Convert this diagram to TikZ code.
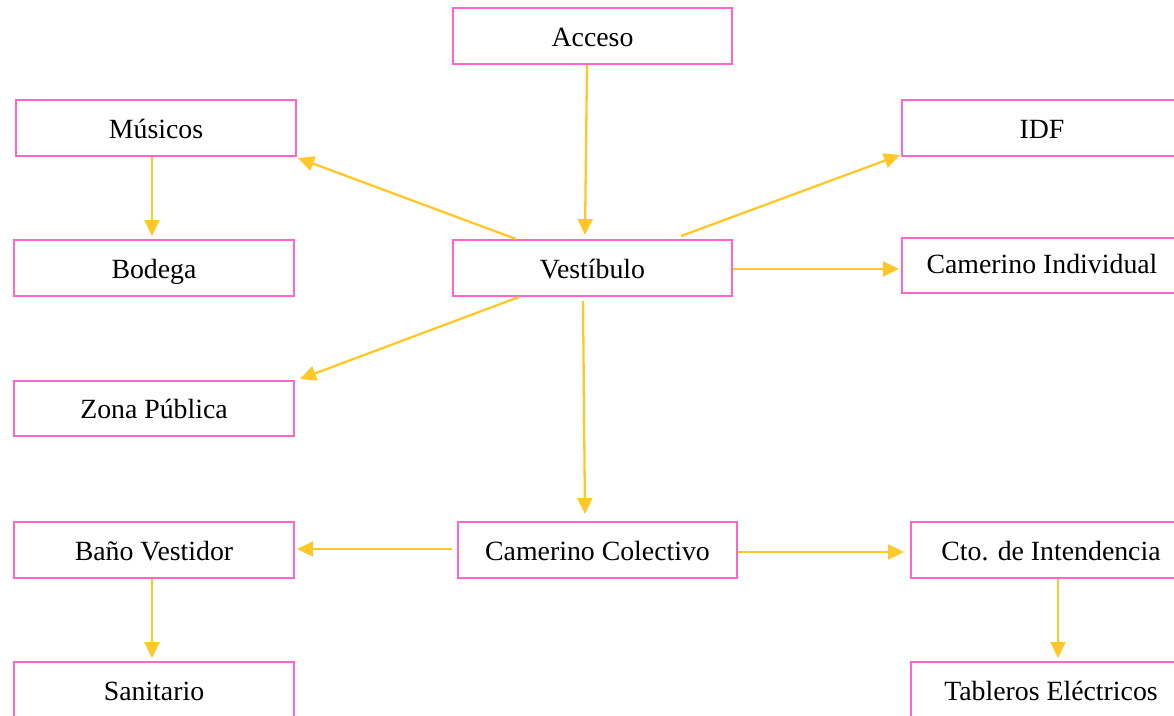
\documentclass[tikz,border=0pt]{standalone}
\usepackage{fontspec}
\setmainfont{Liberation Serif}
\usetikzlibrary{arrows.meta}
\definecolor{boxpink}{RGB}{255,102,204}
\definecolor{arryel}{RGB}{255,200,40}
\begin{document}
\begin{tikzpicture}[x=1pt,y=-1pt,
  box/.style={draw=boxpink,line width=2pt,rectangle,inner sep=0pt,
    minimum width=280pt,minimum height=56pt,text height=21pt,text depth=1pt,
    font=\fontsize{27.8}{33}\selectfont,text=black},
  arr/.style={draw=arryel,line width=2.3pt,-{Triangle[length=16pt,width=15pt]}}]
\useasboundingbox (0,0) rectangle (1174,715);
% nodes
\node[box,minimum width=279pt] (acc) at (592.5,36) {Acceso};
\node[box] (mus) at (156,128) {Músicos};
\node[box] (bod) at (154,268) {Bodega};
\node[box] (idf) at (1042,128) {IDF};
\node[box,minimum width=279pt] (ves) at (592.5,268) {Vestíbulo};
\node[box,minimum height=55pt,text depth=6pt] (ind) at (1042,265.5) {Camerino Individual};
\node[box,minimum height=55pt] (zon) at (154,408.5) {Zona Pública};
\node[box] (ban) at (154,550) {Baño Vestidor};
\node[box,minimum width=279pt] (col) at (597.5,550) {Camerino Colectivo};
\node[box] (cto) at (1051,550) {Cto. de Intendencia};
\node[box] (san) at (154,690) {Sanitario};
\node[box] (tab) at (1051,690) {Tableros Eléctricos};
% connectors
\draw[arr] ([xshift=-5.5pt]acc.south) -- ([xshift=-7.5pt,yshift=4pt]ves.north);
\draw[arr] ([xshift=64pt]ves.north west) -- ([xshift=1pt,yshift=-1pt]mus.south east);
\draw[arr] ([xshift=-52pt,yshift=3pt]ves.north east) -- ([xshift=-1pt,yshift=2pt]idf.south west);
\draw[arr] ([yshift=-1pt]ves.east) -- ([xshift=-2pt,yshift=-3.5pt]ind.west);
\draw[arr] ([xshift=67pt]ves.south west) -- ([xshift=5pt,yshift=1pt]zon.north east);
\draw[arr] ([xshift=-9.5pt,yshift=-4pt]ves.south) -- ([xshift=-12.5pt,yshift=7pt]col.north);
\draw[arr] ([xshift=-5pt,yshift=1pt]col.west) -- ([xshift=2pt,yshift=1pt]ban.east);
\draw[arr] ([yshift=-2pt]col.east) -- ([xshift=-6pt,yshift=-2pt]cto.west);
\draw[arr] ([xshift=-4pt]mus.south) -- ([xshift=-2pt,yshift=3pt]bod.north);
\draw[arr] ([xshift=-2pt]ban.south) -- ([xshift=-2pt,yshift=3pt]san.north);
\draw[arr] ([xshift=7pt]cto.south) -- ([xshift=7pt,yshift=3pt]tab.north);
\end{tikzpicture}
\end{document}
